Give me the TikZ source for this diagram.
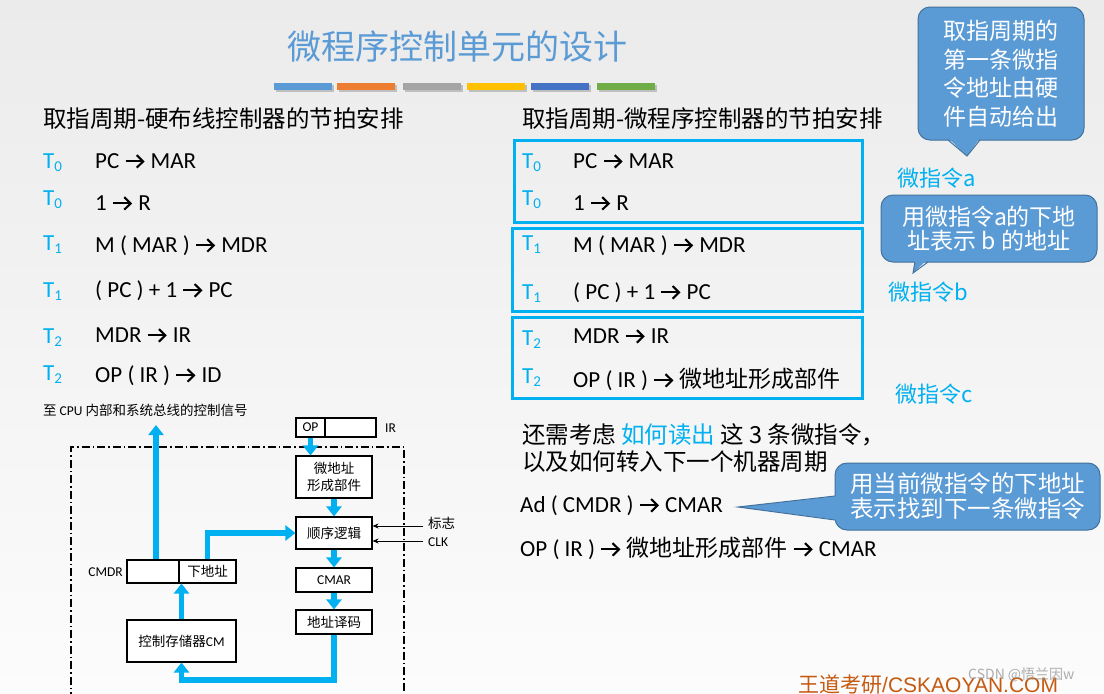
\documentclass[tikz,border=0pt]{standalone}
\usepackage{fontspec}
\setmainfont{Carlito}
\newfontfamily\cjk{Noto Sans CJK SC}
\newfontfamily\arialf{Liberation Sans}
\usetikzlibrary{arrows.meta}
\definecolor{tcyan}{RGB}{0,176,240}
\definecolor{ttl}{RGB}{91,155,213}
\definecolor{cfill}{RGB}{91,155,213}
\definecolor{cline}{RGB}{65,113,156}
\definecolor{foot}{RGB}{197,90,17}
\definecolor{bA}{RGB}{91,155,213}
\definecolor{bB}{RGB}{237,125,49}
\definecolor{bC}{RGB}{165,165,165}
\definecolor{bD}{RGB}{255,192,0}
\definecolor{bE}{RGB}{68,114,196}
\definecolor{bF}{RGB}{112,173,71}
\newcommand\Arr{\tikz[baseline=0pt,x=1pt,y=1pt]{\path (-1,0) rectangle (20,13);\draw[line width=2pt] (0,6.6) -- (17.5,6.6);\draw[line width=2.1pt, line join=miter] (11.2,12.9) -- (17.6,6.6) -- (11.2,0.3);}}
\newcommand\Tn[1]{T\raisebox{-3pt}{\fontsize{15}{15}\selectfont #1}}
\begin{document}
\begin{tikzpicture}[x=1pt,y=-1pt,
 hd/.style={anchor=base west, inner sep=0, font=\cjk\fontsize{23.5}{28}\selectfont},
 tx/.style={anchor=base west, inner sep=0, font=\fontsize{23}{28}\selectfont},
 tl/.style={anchor=base west, inner sep=0, text=tcyan, font=\fontsize{23}{28}\selectfont},
 grp/.style={draw=tcyan, line width=3pt, inner sep=0},
 wl/.style={anchor=base west, inner sep=0, text=tcyan, font=\cjk\fontsize{22}{26}\selectfont},
 callout/.style={draw=cline, fill=cfill, line width=1pt, rounded corners=12pt, text=white, inner sep=0, align=center},
 blk/.style={draw, line width=1.1pt, fill=white, inner sep=0, font=\cjk\fontsize{13.5}{16.5}\selectfont},
 lat/.style={font=\fontsize{13.5}{16}\selectfont},
 barrow/.style={draw=tcyan, line width=5.5pt, -{Triangle[width=15pt,length=10pt]}},
 thinarrow/.style={line width=0.9pt, -{Stealth[length=6pt,width=5pt]}},
 frame/.style={line width=1.2pt, dash pattern=on 8pt off 3pt on 1.5pt off 3pt},
]
\useasboundingbox (0,0) rectangle (1104,694);
\shade[top color={rgb,255:red,235;green,235;blue,235}, bottom color={rgb,255:red,252;green,252;blue,252}] (0,0) rectangle (1104,694);

% title and bars
\node[anchor=base west, inner sep=0, text=ttl, font=\cjk\fontsize{34}{40}\selectfont] (title) at (287,59) {微程序控制单元的设计};
\foreach \x/\c in {274/bA,337/bB,403/bC,467/bD,531/bE,597/bF}{
  \fill[black!25] (\x+1.5,85) rectangle (\x+59.5,92);
  \fill[\c] (\x,83) rectangle (\x+58,90);
}

% headings
\node[hd] (lh) at (43,127) {取指周期-硬布线控制器的节拍安排};
\node[hd] (rh) at (522,127) {取指周期-微程序控制器的节拍安排};

% left list
\node[tl] (lt1) at (43,168) {\Tn0};
\node[tl] (lt2) at (43,205) {\Tn0};
\node[tl] (lt3) at (43,250) {\Tn1};
\node[tl] (lt4) at (43,297) {\Tn1};
\node[tl] (lt5) at (43,343) {\Tn2};
\node[tl] (lt6) at (43,380) {\Tn2};
\node[tx] (lx1) at (95,168) {PC \Arr{} MAR};
\node[tx] (lx2) at (95,210) {1 \Arr{} R};
\node[tx] (lx3) at (95,252) {M ( MAR ) \Arr{} MDR};
\node[tx] (lx4) at (95,297) {( PC ) + 1 \Arr{} PC};
\node[tx] (lx5) at (95,342) {MDR \Arr{} IR};
\node[tx] (lx6) at (95,382) {OP ( IR ) \Arr{} ID};

% right list with group boxes
\node[grp, minimum width=348, minimum height=82] (g1) at (688,181) {};
\node[grp, minimum width=350, minimum height=83] (g2) at (687,269.5) {};
\node[grp, minimum width=350, minimum height=81] (g3) at (687,357.5) {};
\node[tl] (rt1) at (522,168) {\Tn0};
\node[tl] (rt2) at (522,205) {\Tn0};
\node[tl] (rt3) at (522,250) {\Tn1};
\node[tl] (rt4) at (522,299) {\Tn1};
\node[tl] (rt5) at (522,345) {\Tn2};
\node[tl] (rt6) at (522,383) {\Tn2};
\node[tx] (rx1) at (573,168) {PC \Arr{} MAR};
\node[tx] (rx2) at (573,210) {1 \Arr{} R};
\node[tx] (rx3) at (573,252) {M ( MAR ) \Arr{} MDR};
\node[tx] (rx4) at (573,299) {( PC ) + 1 \Arr{} PC};
\node[tx] (rx5) at (573,343) {MDR \Arr{} IR};
\node[tx] (rx6) at (573,387) {OP ( IR ) \Arr{} {\cjk 微地址形成部件}};

% micro-instruction labels
\node[wl] (wa) at (897,186) {微指令a};
\node[wl] (wb) at (888,300) {微指令b};
\node[wl] (wc) at (895,402) {微指令c};

% callouts
\node[callout, minimum width=166, minimum height=133, font=\cjk\fontsize{23}{28.5}\selectfont] (c1) at (1001,73.5) {取指周期的\\第一条微指\\令地址由硬\\件自动给出};
\fill[cfill] (948,138) -- (967,156) -- (980,138) -- cycle;
\draw[cline, line width=1pt] (948,140) -- (967,156) -- (980,140);

\node[callout, minimum width=216, minimum height=67, font=\cjk\fontsize{23}{24}\selectfont] (c2) at (989,228.5) {用微指令a的下地\\址表示 b 的地址};
\fill[cfill] (915,259) -- (913,273) -- (928,259) -- cycle;
\draw[cline, line width=1pt] (915,262) -- (913,273) -- (928,262);

\node[callout, minimum width=265, minimum height=67, font=\cjk\fontsize{23.5}{25}\selectfont] (c3) at (967.5,496.5) {用当前微指令的下地址\\表示找到下一条微指令};
\fill[cfill] (838,496) -- (738,507) -- (838,520) -- cycle;
\draw[cline, line width=1pt] (835,496) -- (738,507) -- (835,520);

% bottom right text
\node[hd] (q1) at (522,443) {还需考虑 \textcolor{tcyan}{如何读出} 这 3 条微指令，};
\node[hd] (q2) at (522,470) {以及如何转入下一个机器周期};
\node[tx] (q3) at (520,512) {Ad ( CMDR ) \Arr{} CMAR};
\node[tx] (q4) at (520,556) {OP ( IR ) \Arr{} {\cjk 微地址形成部件} \Arr{} CMAR};

% block diagram
\draw[frame] (71,700) -- (71,447) -- (404,447) -- (404,700);
\node[anchor=west, inner sep=0, font=\cjk\fontsize{13.5}{16}\selectfont] (sig) at (43,410) {至 {\rmfamily CPU} 内部和系统总线的控制信号};

\node[blk, lat, minimum width=29, minimum height=19] (irop) at (310.5,427.5) {OP};
\node[blk, minimum width=51, minimum height=19] (irr) at (350.5,427.5) {};
\node[lat, anchor=west, inner sep=0] (irl) at (385,428) {IR};
\node[blk, align=center, minimum width=76, minimum height=42] (wdz) at (334,477) {微地址\\形成部件};
\node[blk, minimum width=76, minimum height=32] (sx) at (334,533) {顺序逻辑};
\node[blk, lat, minimum width=76, minimum height=24] (cmar) at (334,580) {CMAR};
\node[blk, minimum width=76, minimum height=24] (yima) at (334,622) {地址译码};
\node[blk, minimum width=52, minimum height=23] (cmdrL) at (153,571.5) {};
\node[blk, minimum width=57, minimum height=23] (cmdrR) at (207.5,571.5) {下地址};
\node[lat, anchor=east, inner sep=0] (cmdrl) at (123,572) {CMDR};
\node[blk, minimum width=109, minimum height=42] (cm) at (181.5,641) {控制存储器{\rmfamily CM}};
\node[anchor=west, inner sep=0, font=\cjk\fontsize{13.5}{16}\selectfont] (flag) at (428,523) {标志};
\node[lat, anchor=west, inner sep=0] (clk) at (428,542) {CLK};

\coordinate (f1) at (423,526);
\coordinate (f2) at (423,541);
\draw[thinarrow] (f1) -- (f1 -| sx.east);
\draw[thinarrow] (f2) -- (f2 -| sx.east);

\coordinate (sigtop) at (156,425);
\coordinate (lp) at (334,680);
\draw[barrow] (irop.south) -- (irop.south |- wdz.north);
\draw[barrow] (wdz.south) -- (sx.north);
\draw[barrow] (sx.south) -- (cmar.north);
\draw[barrow] (cmar.south) -- (yima.north);
\draw[barrow] (yima.south) -- (lp) -| (cm.south);
\draw[barrow] (cm.north) -- (cm.north |- cmdrR.south);
\draw[barrow] (cmdrL.north -| sigtop) -- (sigtop);
\draw[barrow] (cmdrR.north) |- (sx.west);

% footer
\node[anchor=base west, inner sep=0, text=foot, font=\fontsize{21}{24}\selectfont] (foot) at (798,692) {{\cjk 王道考研}{\arialf /CSKAOYAN.COM}};
\node[anchor=west, inner sep=0, text=black!40, opacity=0.8, font=\cjk\fontsize{14}{16}\selectfont] (csdn) at (968,675) {CSDN @悟兰因w};
\end{tikzpicture}
\end{document}
